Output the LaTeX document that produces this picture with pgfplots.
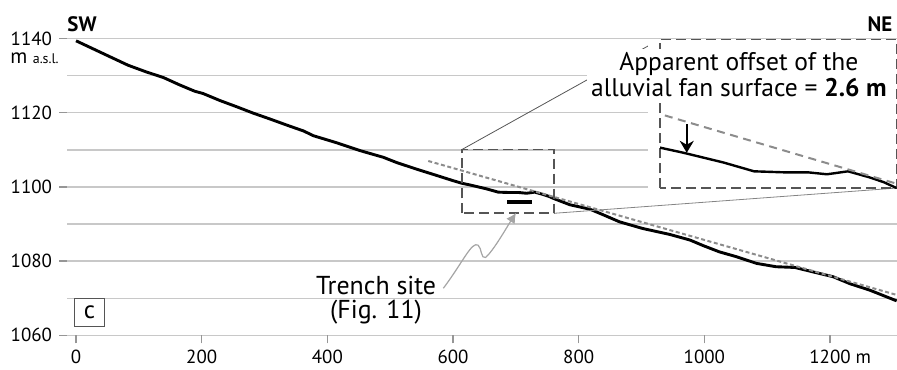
\documentclass[border=0pt]{standalone}
\usepackage{pgfplots}
\pgfplotsset{compat=1.18}
\usepackage{pgfplotstable}
\usepackage{fontspec}
\setmainfont{PT Sans}
\usetikzlibrary{arrows.meta}
\definecolor{gridc}{RGB}{200,200,200}
\definecolor{tickc}{RGB}{150,150,150}
\definecolor{boxc}{RGB}{85,85,85}
\definecolor{fanc}{RGB}{140,140,140}
\definecolor{arrc}{RGB}{165,165,165}

\pgfplotstableread{
x y
0 1139.4
54 1135.1
83 1132.8
112 1131.0
139 1129.5
165 1127.5
189 1125.8
202 1125.2
229 1123.3
256 1121.6
282 1119.9
309 1118.3
340 1116.4
362 1115.1
378 1113.8
415 1111.9
452 1109.8
489 1108.0
510 1106.6
542 1104.8
574 1103.1
600 1101.7
614 1101.0
628 1100.5
653 1099.5
672 1098.6
690 1098.5
705 1098.5
717 1098.3
730 1098.6
743 1098.0
752 1097.5
760 1096.9
786 1095.2
818 1094.0
839 1092.5
865 1090.6
902 1088.8
945 1087.2
977 1085.7
998 1084.2
1024 1082.5
1051 1081.2
1083 1079.4
1114 1078.5
1144 1078.3
1173 1077.1
1205 1075.8
1232 1073.9
1263 1072.2
1306 1069.3
}\profile

\pgfplotstableread{
x y
560.6 1107.0
1306 1070.9
}\fan

\pgfplotstableread{
x y
686 1095.9
726 1095.9
}\trench

\begin{document}
\begin{tikzpicture}
\begin{axis}[
  scale only axis, width=414.8bp, height=148.4bp,
  xmin=-14.3, xmax=1306, ymin=1060, ymax=1140,
  axis line style={draw=none},
  xtick={0,200,...,1200},
  xticklabels={0,200,400,600,800,1000,1200\rlap{ m}},
  ytick={1060,1080,...,1140},
  yticklabels={1060,1080,1100,1120,1140},
  minor ytick={1070,1090,1110,1130},
  ymajorgrids, yminorgrids,
  major grid style={draw=gridc, line width=0.7bp},
  minor grid style={draw=gridc, line width=0.7bp},
  tick align=outside, major tick length=4bp, minor tick length=0pt,
  xtick pos=lower, ytick pos=lower,
  major tick style={draw=tickc, line width=0.7bp},
  ticklabel style={font=\fontsize{9.5}{11}\selectfont},
  clip=false,
]
\addplot[black, line width=1.45bp] table {\profile};
\addplot[fanc, line width=1bp, dash pattern=on 2bp off 1.3bp] table {\fan};
\addplot[black, line width=2.3bp] table {\trench};

\coordinate (BL) at (axis cs:-121,1050.9);
\coordinate (TR) at (axis cs:1306.6,1150.4);
\coordinate (InSW) at (axis cs:929.5,1099.7);

% zoom box
\draw[boxc, line width=0.8bp, dash pattern=on 5bp off 2.5bp] (axis cs:614.3,1092.9) rectangle (axis cs:760.8,1110.1);
% leader lines
\draw[boxc, line width=0.4bp] (axis cs:614.3,1110.1) -- (axis cs:929.5,1139.8);
% inset background and frame
\fill[white] (axis cs:910,1099.45) rectangle (axis cs:1306,1139.75);
\draw[arrc!80!black, line width=0.4bp] (axis cs:760.8,1092.9) -- (axis cs:1306,1099.7);
\draw[boxc, line width=0.8bp, dash pattern=on 5bp off 2.5bp] (axis cs:929.5,1099.7) rectangle (axis cs:1306,1139.8);

\node[fill=white, align=center, inner sep=2bp, font=\fontsize{12.8}{13.2}\selectfont] at (axis cs:1055,1130.2)
  {Apparent offset of the\\alluvial fan surface = \textbf{2.6 m}};

\draw[black, line width=1.1bp, -{Stealth[length=6bp,width=7bp]}] (axis cs:972,1116.9) -- (axis cs:972,1109.2);

% trench arrow
\draw[arrc, line width=0.6bp, -{Latex[length=5bp,width=5bp]}]
  (axis cs:584.6,1072.7) .. controls (axis cs:615,1079.5) and (axis cs:630,1085.5) .. (axis cs:640,1084.3)
  .. controls (axis cs:646,1083.5) and (axis cs:644,1080.5) .. (axis cs:652,1081)
  .. controls (axis cs:665,1083) and (axis cs:685,1089) .. (axis cs:700.3,1093);

\node[align=center, font=\fontsize{13}{12}\selectfont] at (axis cs:477.5,1069.4) {Trench site\\(Fig. 11)};

% panel label
\draw[boxc, line width=0.5bp] (axis cs:-2.7,1062.3) rectangle (axis cs:45.5,1070);
\node[font=\fontsize{12.5}{12}\selectfont] at (axis cs:21.4,1066.3) {c};

\node[font=\bfseries\fontsize{10.5}{12}\selectfont] at (axis cs:9.5,1143.9) {SW};
\node[font=\bfseries\fontsize{10.5}{12}\selectfont] at (axis cs:1279.6,1143.9) {NE};
\node[anchor=base east, inner sep=0pt] at (axis cs:-27,1133.3)
  {\fontsize{10.5}{12}\selectfont m \fontsize{7}{8}\selectfont a.s.l.};
\end{axis}

\begin{axis}[at={(InSW)}, anchor=south west, scale only axis,
  width=118.3bp, height=74.4bp,
  xmin=614, xmax=760, ymin=1096.9, ymax=1112,
  hide axis, clip=true]
\addplot[black, line width=1.2bp] table {\profile};
\addplot[fanc, line width=1bp, dash pattern=on 4bp off 2.8bp] table {\fan};
\end{axis}

\pgfresetboundingbox
\useasboundingbox (BL) rectangle (TR);
\end{tikzpicture}
\end{document}
